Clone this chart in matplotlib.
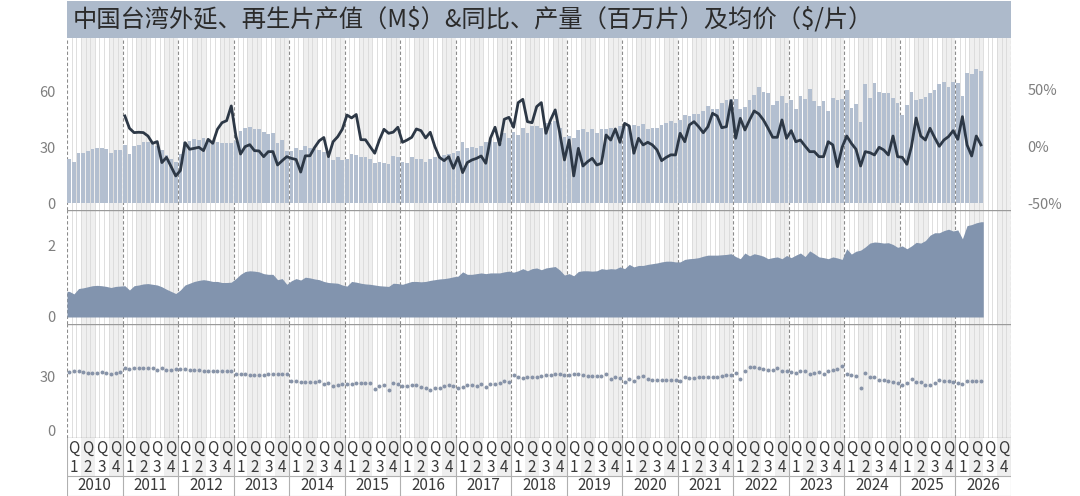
import numpy as np
import matplotlib
matplotlib.use('Agg')
import matplotlib.pyplot as plt
from matplotlib.patches import Rectangle

plt.rcParams['font.family'] = ['Noto Sans CJK SC', 'DejaVu Sans']

title = '中国台湾外延、再生片产值（M\\$）&同比、产量（百万片）及均价（\\$/片）'
years = [str(y) for y in range(2010, 2027)]
quarter_names = ['1', '2', '3', '4']

# Monthly output value (M$), 2010-01 .. 2026-06
output_musd = [
    23.8, 21.8, 26.6, 26.6, 27.8, 28.8, 29.5, 29.2, 29.0, 26.6, 28.2, 28.2,
    31.3, 26.0, 30.8, 31.2, 32.7, 32.7, 32.0, 30.5, 28.5, 25.5, 23.5, 22.0,
    26.5, 32.5, 33.2, 34.5, 34.0, 34.8, 34.0, 33.0, 32.5, 32.2, 32.0, 32.2,
    33.0, 38.4, 40.0, 40.5, 39.8, 39.7, 37.8, 37.2, 37.6, 32.2, 33.6, 28.0,
    28.0, 29.2, 28.4, 30.4, 29.6, 28.7, 28.3, 27.4, 25.2, 23.3, 24.5, 23.0,
    23.5, 26.2, 25.8, 24.6, 24.5, 23.5, 21.3, 22.2, 21.3, 20.9, 25.2, 24.5,
    22.2, 21.3, 24.8, 23.6, 23.4, 22.2, 23.4, 24.8, 25.2, 25.7, 26.2, 27.0,
    28.1, 32.9, 29.3, 30.2, 29.3, 30.6, 32.9, 34.1, 32.9, 32.0, 37.3, 34.6,
    38.2, 36.4, 40.0, 37.3, 41.0, 41.0, 40.0, 42.7, 43.0, 44.0, 40.0, 35.5,
    36.0, 34.6, 39.1, 39.4, 38.2, 39.4, 37.6, 39.4, 39.4, 40.0, 39.1, 41.0,
    41.0, 41.3, 41.9, 41.0, 42.2, 39.4, 40.4, 40.4, 41.9, 43.0, 44.1, 42.7,
    44.5, 47.0, 46.5, 47.5, 47.5, 49.5, 52.0, 50.5, 50.5, 53.5, 55.0, 55.5,
    55.5, 50.5, 51.5, 55.0, 58.0, 62.0, 59.5, 59.0, 52.5, 54.5, 57.5, 53.5,
    55.0, 50.5, 57.5, 55.5, 61.0, 54.5, 52.0, 54.5, 49.5, 56.0, 55.0, 55.5,
    60.5, 51.0, 53.0, 43.5, 64.0, 56.0, 64.5, 59.5, 59.0, 59.0, 56.0, 53.5,
    47.1, 52.4, 59.3, 55.2, 55.5, 56.6, 58.8, 60.5, 63.7, 64.9, 61.9, 64.9,
    64.4, 57.3, 69.5, 69.1, 71.6, 70.7,
]

# YoY of output (%), 2011-01 .. 2026-06
yoy_pct = [
    27.2, 16.4, 12.6, 12.9, 12.6, 9.6, 3.2, 4.7, -13.7, -9.1, -17.3, -25.4,
    -20.7, 3.8, -2.0, -1.2, -0.3, -3.2, 6.7, 3.2, 15.5, 21.3, 23.1, 36.0,
    9.6, -6.2, 0.3, 2.0, -3.2, -3.5, -8.5, -4.1, -4.1, -15.8, -12.0, -8.5,
    -10.0, -11.0, -22.0, -7.8, -7.7, -0.5, 5.4, 8.3, -8.5, 4.6, 9.0, 15.6,
    28.0, 25.5, 28.5, 6.4, 6.3, 0.3, -5.5, 6.1, 15.5, 12.0, 13.0, 17.3,
    4.1, 6.1, 8.5, 15.8, 14.3, 7.9, 12.9, 0.3, -9.1, -12.0, -8.5, -18.7,
    -9.0, -22.5, -13.7, -11.4, -10.0, -7.9, -14.3, 7.6, 17.3, 1.8, 24.3, 26.0,
    17.3, 38.9, 41.8, 22.2, 21.3, 35.4, 38.9, 12.0, 23.7, 32.5, 12.0, -11.4,
    6.1, -25.4, -1.2, -16.7, -12.9, -10.0, -15.8, -14.3, 10.5, 6.1, 15.8, 4.1,
    20.7, 18.4, -5.5, 7.6, 1.8, 4.1, 1.8, -2.6, -12.0, -9.1, -6.9, -7.0,
    12.0, 4.6, 19.3, 22.2, 17.8, 12.5, 17.8, 29.5, 27.2, 16.9, 17.8, 40.6,
    7.6, 25.1, 14.9, 23.7, 31.6, 29.0, 23.7, 16.4, 8.5, 8.5, 23.7, 7.6,
    14.3, 4.6, 6.1, 0.8, -4.1, -4.1, -8.5, -8.5, 4.6, 1.8, -17.3, -0.3,
    9.6, 3.2, -2.0, -16.7, -4.1, -5.0, -7.0, -0.3, -2.6, -7.0, 9.6, -8.5,
    -9.1, -15.2, 0.6, 25.4, 9.6, 6.1, 16.4, 8.2, 0.6, 6.1, 9.1, 14.3,
    6.7, 26.6, 1.8, -7.9, 9.6, 1.8,
]

# Monthly volume (million wafers), 2010-01 .. 2026-06
volume_mpcs = [
    0.72, 0.65, 0.80, 0.82, 0.85, 0.88, 0.89, 0.88, 0.86, 0.83, 0.86, 0.87,
    0.88, 0.76, 0.88, 0.90, 0.93, 0.94, 0.92, 0.90, 0.85, 0.78, 0.72, 0.66,
    0.76, 0.90, 0.95, 1.00, 1.03, 1.05, 1.03, 1.00, 1.00, 0.97, 0.97, 0.98,
    1.08, 1.20, 1.28, 1.30, 1.29, 1.27, 1.22, 1.20, 1.20, 1.05, 1.08, 0.92,
    1.02, 1.08, 1.04, 1.12, 1.10, 1.07, 1.05, 1.00, 0.97, 0.96, 0.95, 0.90,
    0.87, 1.00, 0.98, 0.95, 0.93, 0.92, 0.90, 0.88, 0.87, 0.86, 0.95, 0.94,
    0.92, 0.96, 1.00, 1.00, 0.99, 1.00, 1.03, 1.05, 1.07, 1.08, 1.10, 1.13,
    1.15, 1.27, 1.20, 1.20, 1.22, 1.24, 1.22, 1.24, 1.24, 1.24, 1.27, 1.29,
    1.26, 1.30, 1.36, 1.30, 1.36, 1.38, 1.33, 1.38, 1.40, 1.42, 1.32, 1.18,
    1.22, 1.16, 1.28, 1.30, 1.30, 1.29, 1.30, 1.36, 1.34, 1.36, 1.35, 1.41,
    1.36, 1.48, 1.41, 1.45, 1.45, 1.48, 1.50, 1.52, 1.55, 1.57, 1.57, 1.55,
    1.55, 1.62, 1.64, 1.65, 1.67, 1.71, 1.74, 1.74, 1.74, 1.75, 1.76, 1.78,
    1.70, 1.64, 1.80, 1.72, 1.78, 1.75, 1.71, 1.64, 1.67, 1.69, 1.64, 1.73,
    1.67, 1.74, 1.80, 1.70, 1.86, 1.78, 1.69, 1.67, 1.64, 1.69, 1.66, 1.62,
    1.92, 1.77, 1.85, 1.88, 1.97, 2.08, 2.11, 2.10, 2.08, 2.09, 2.04, 1.96,
    2.00, 1.92, 2.00, 2.10, 2.08, 2.15, 2.30, 2.37, 2.37, 2.43, 2.47, 2.42,
    2.45, 2.20, 2.57, 2.60, 2.65, 2.68,
]

# Average price ($/wafer), 2010-01 .. 2026-06
price_usd = [
    32.2, 32.6, 32.6, 32.2, 31.8, 31.8, 31.6, 32.2, 31.8, 31.3, 31.6, 32.2,
    34.4, 34.0, 34.4, 34.4, 34.4, 34.4, 34.4, 33.1, 34.4, 33.5, 33.5, 34.0,
    33.7, 33.7, 33.5, 33.5, 33.1, 32.8, 32.8, 32.8, 32.8, 32.8, 32.8, 32.6,
    31.3, 31.3, 31.3, 30.8, 30.8, 30.8, 30.8, 31.0, 31.3, 31.3, 31.0, 31.0,
    27.1, 27.3, 26.7, 26.7, 26.7, 26.7, 27.3, 25.8, 26.2, 24.5, 25.2, 25.8,
    25.8, 25.8, 26.2, 26.2, 26.2, 26.2, 23.0, 24.5, 24.9, 22.1, 26.2, 25.8,
    24.5, 24.5, 25.2, 24.9, 24.0, 23.6, 22.5, 23.4, 23.6, 24.3, 24.9, 24.7,
    23.6, 23.9, 24.9, 25.2, 24.5, 25.4, 23.9, 25.4, 25.4, 26.2, 27.1, 26.5,
    30.4, 29.5, 29.1, 29.5, 29.3, 29.5, 30.0, 30.4, 30.8, 30.9, 31.3, 30.4,
    30.8, 30.9, 30.9, 30.4, 29.8, 29.8, 29.8, 29.8, 31.3, 28.5, 29.5, 29.1,
    26.7, 28.5, 27.3, 29.5, 29.8, 28.5, 27.6, 27.6, 27.6, 27.6, 27.6, 28.0,
    27.1, 29.5, 29.1, 29.1, 29.5, 29.5, 29.5, 29.5, 29.5, 30.0, 30.4, 30.4,
    31.7, 28.5, 32.8, 35.0, 35.0, 34.6, 34.1, 33.1, 33.1, 34.4, 32.6, 32.6,
    32.2, 31.7, 32.8, 32.8, 31.3, 31.7, 32.2, 31.3, 32.8, 33.1, 34.1, 35.4,
    31.3, 30.4, 29.8, 23.6, 31.9, 29.5, 29.5, 28.0, 27.6, 27.3, 26.7, 26.2,
    24.8, 26.3, 28.1, 26.9, 26.7, 25.0, 24.8, 25.9, 27.6, 27.2, 27.2, 26.9,
    26.3, 25.4, 27.2, 27.2, 27.2, 27.2,
]

W_PX, H_PX = 1080, 496
fig = plt.figure(figsize=(W_PX / 100, H_PX / 100), dpi=100)

L_PX, R_PX = 67, 1011


def rect(top, bottom):
    return [L_PX / W_PX, 1 - bottom / H_PX, (R_PX - L_PX) / W_PX, (bottom - top) / H_PX]


N_SLOTS = len(years) * 12
n = len(output_musd)
xm = np.arange(n) + 0.5

BAR_C = '#b3bfd0'
LINE_C = '#2d3846'
AREA_C = '#8294ae'
DOT_C = '#8793a8'
SHADE_C = '#efefef'
MLINE_C = '#d9d9d9'
YLINE_C = '#8c8c8c'
TICK_C = '#7f7f7f'
SEP_C = '#9a9a9a'


def background(ax):
    ax.set_xlim(0, N_SLOTS)
    for q in range(N_SLOTS // 3):
        if q % 2 == 1:
            ax.axvspan(q * 3, q * 3 + 3, color=SHADE_C, lw=0, zorder=0)
    for m in range(N_SLOTS + 1):
        if m % 12 == 0:
            ax.axvline(m, color=YLINE_C, lw=0.8, ls=(0, (3, 2)), zorder=0.6)
        else:
            ax.axvline(m, color=MLINE_C, lw=0.6, zorder=0.5)
    for s in ax.spines.values():
        s.set_visible(False)
    ax.tick_params(axis='x', bottom=False, labelbottom=False)
    ax.tick_params(axis='y', length=0, labelsize=10.5, labelcolor=TICK_C, pad=8)


# Title bar
axt = fig.add_axes(rect(1, 38))
axt.set_facecolor('#adbacb')
axt.set_xticks([]); axt.set_yticks([])
for s in axt.spines.values():
    s.set_visible(False)
axt.text(6 / (R_PX - L_PX), 0.5, title, transform=axt.transAxes, ha='left', va='center',
         fontsize=17.5, color='#2b2b2b')

# Top panel: output bars + YoY line
ax1 = fig.add_axes(rect(38, 210))
background(ax1)
ax1.bar(xm, output_musd, width=0.8, color=BAR_C, zorder=2)
ax1.set_ylim(-3.75, 88.4)
ax1.set_yticks([0, 30, 60])
ax1b = ax1.twinx()
for s in ax1b.spines.values():
    s.set_visible(False)
ax1b.plot(xm[12:12 + len(yoy_pct)], yoy_pct, color=LINE_C, lw=2.0, zorder=3)
ax1b.set_ylim(-55.3, 95.6)
ax1b.set_yticks([-50, 0, 50])
ax1b.set_yticklabels(['-50%', '0%', '50%'])
ax1b.tick_params(axis='y', length=0, labelsize=10.5, labelcolor=TICK_C, pad=12)
ax1b.set_xlim(0, N_SLOTS)

# Middle panel: volume area
ax2 = fig.add_axes(rect(210, 324))
background(ax2)
xa = np.concatenate([[0.0], xm, [float(n)]])
ya = np.concatenate([[volume_mpcs[0]], volume_mpcs, [volume_mpcs[-1]]])
ax2.fill_between(xa, 0, ya, color=AREA_C, lw=0, zorder=2)
ax2.set_ylim(-0.197, 3.01)
ax2.set_yticks([0, 2])
ax2.axhline(3.01, color=SEP_C, lw=1.0, zorder=3)

# Bottom panel: price dots
ax3 = fig.add_axes(rect(324, 438))
background(ax3)
ax3.scatter(xm, price_usd, s=8, color=DOT_C, lw=0, zorder=2)
ax3.set_ylim(-4.44, 58.9)
ax3.set_yticks([0, 30])
ax3.axhline(58.9, color=SEP_C, lw=1.0, zorder=3)
ax3.axhline(-4.44, color=SEP_C, lw=1.0, zorder=3)

# Axis labels area
ax4 = fig.add_axes(rect(438, 496))
ax4.set_xlim(0, N_SLOTS)
ax4.set_ylim(58, 0)
ax4.axis('off')
for q in range(N_SLOTS // 3):
    if q % 2 == 1:
        ax4.add_patch(Rectangle((q * 3, 0), 3, 38, color=SHADE_C, lw=0, zorder=0))
    ax4.text(q * 3 + 1.5, 10, 'Q', ha='center', va='center', fontsize=11, color='#3a3a3a')
    ax4.text(q * 3 + 1.5, 29, quarter_names[q % 4], ha='center', va='center',
             fontsize=11, color='#3a3a3a')
for i, yname in enumerate(years):
    ax4.text(i * 12 + 6, 48, yname, ha='center', va='center', fontsize=11, color='#3a3a3a')
for yb in range(len(years) + 1):
    ax4.plot([yb * 12, yb * 12], [0, 57.5], color='#b0b0b0', lw=0.8, zorder=1)
ax4.plot([0, N_SLOTS], [38, 38], color='#b0b0b0', lw=0.8)
ax4.plot([0, N_SLOTS], [57.5, 57.5], color='#b0b0b0', lw=0.8)

fig.savefig('out.png', dpi=100)
